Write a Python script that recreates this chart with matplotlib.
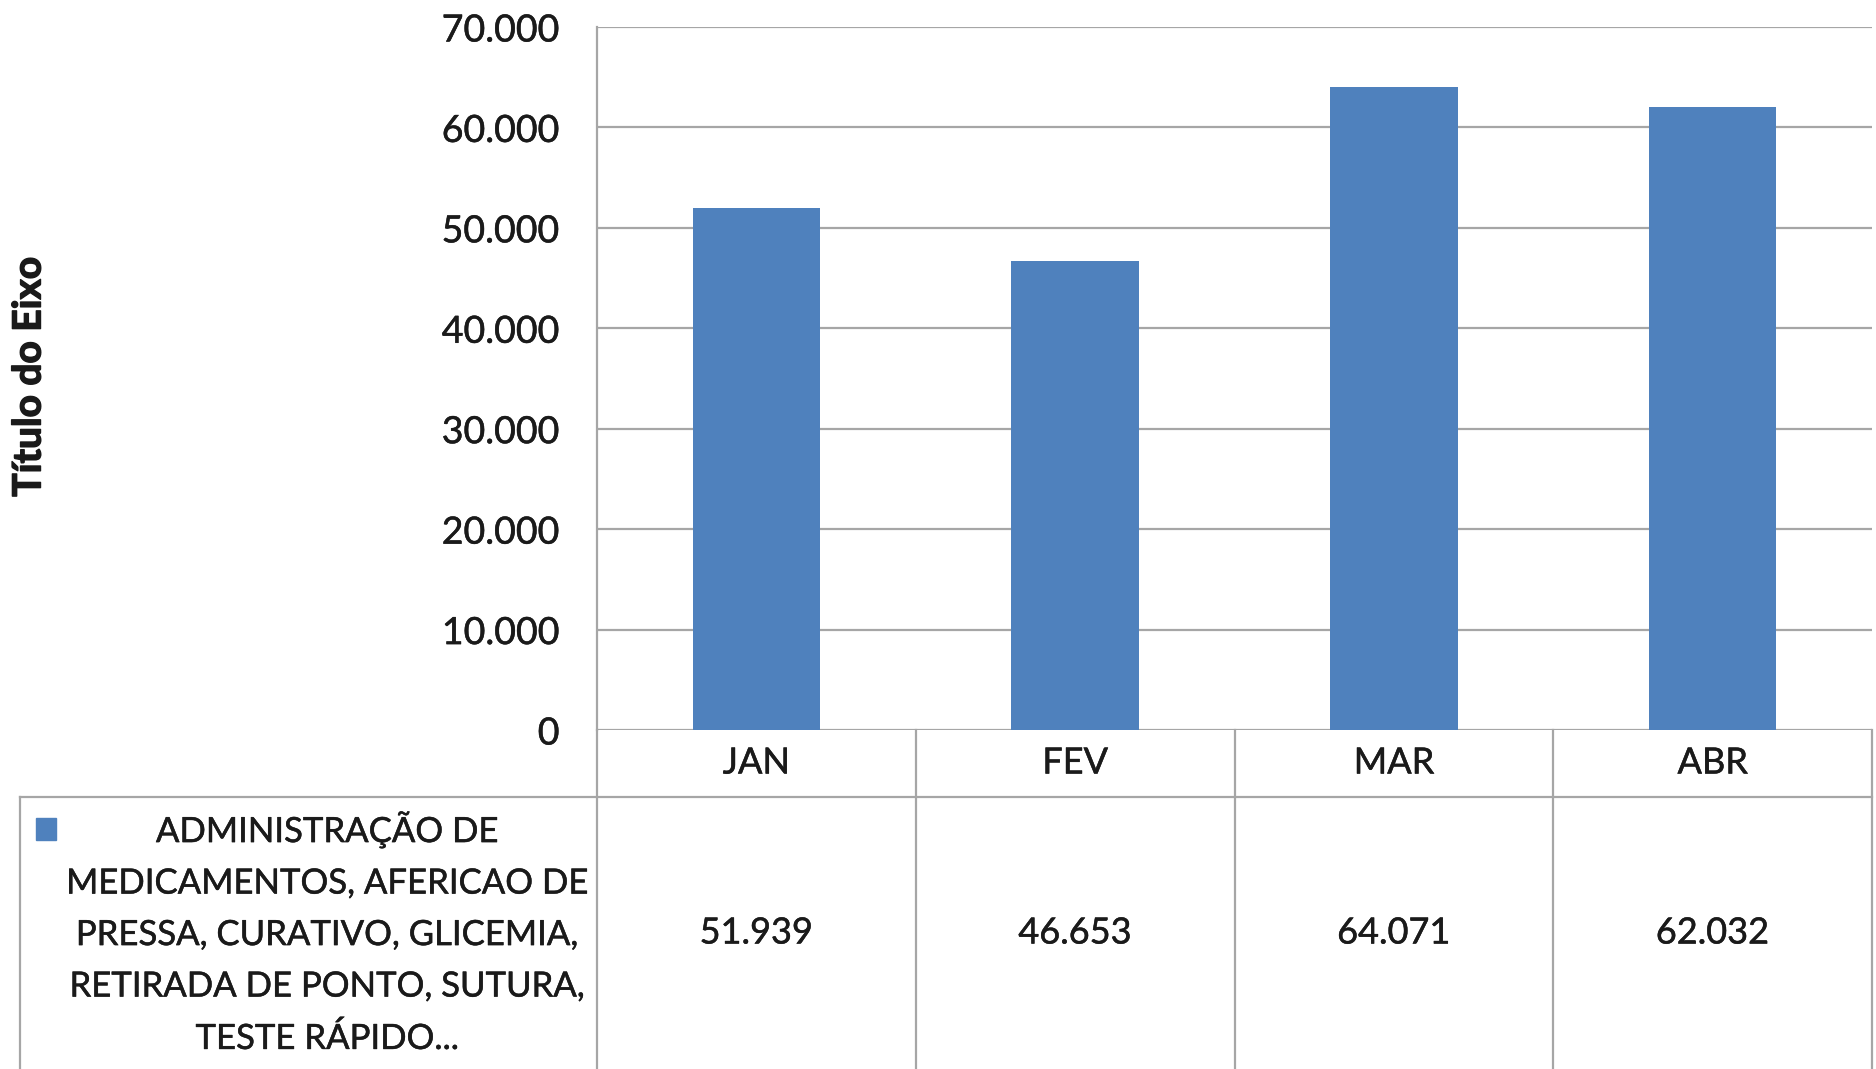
import matplotlib.pyplot as plt
import matplotlib.patheffects as pe
from matplotlib.lines import Line2D
from matplotlib.transforms import blended_transform_factory
from matplotlib.ticker import FuncFormatter

# dados
meses = ["JAN", "FEV", "MAR", "ABR"]
valores = [51939, 46653, 64071, 62032]
serie = ("ADMINISTRAÇÃO DE\nMEDICAMENTOS, AFERICAO DE\nPRESSA, CURATIVO, GLICEMIA,\n"
         "RETIRADA DE PONTO, SUTURA,\nTESTE RÁPIDO...")
y_ticks = [0, 10000, 20000, 30000, 40000, 50000, 60000, 70000]

plt.rcParams['font.family'] = ['Lato', 'DejaVu Sans']
plt.rcParams['text.color'] = "#1a1a1a"

W, H = 1876, 1069
fig = plt.figure(figsize=(W / 100, H / 100), dpi=100)
azul = "#4F81BD"
cinza = "#A6A6A6"
grosso = [pe.withStroke(linewidth=0.35, foreground="#1a1a1a")]

def fy(py):
    return 1 - py / H

def fx(px):
    return px / W

ax = fig.add_axes([fx(597), fy(730), fx(1872) - fx(597), fy(27) - fy(730)])
x = range(len(meses))
ax.bar(x, valores, width=0.4, color=azul, zorder=3)
ax.set_xlim(-0.5, len(meses) - 0.5)
ax.set_ylim(0, 70000)
ax.set_yticks(y_ticks)
ax.yaxis.set_major_formatter(FuncFormatter(lambda v, p: "0" if v == 0 else f"{int(v):,}".replace(",", ".")))
ax.tick_params(axis="y", length=0, pad=27, labelsize=27, colors="#1a1a1a")
for t in ax.get_yticklabels():
    t.set_path_effects(grosso)
ax.set_xticks([])
ax.grid(axis="y", color=cinza, linewidth=1.6, zorder=0)
for s in ["top", "right", "bottom"]:
    ax.spines[s].set_visible(False)
ax.spines["left"].set_color(cinza)
ax.spines["left"].set_linewidth(1.6)

fig.text(fx(29), fy(377), "Título do Eixo", rotation=90, ha="center", va="center",
         fontsize=28, fontweight="bold",
         path_effects=[pe.withStroke(linewidth=1.0, foreground="#1a1a1a")])

# tabela de dados
tr = blended_transform_factory(ax.transData, fig.transFigure)
lw = 1.6
y0, y1, y2 = fy(730), fy(797), fy(H + 5)
for i in range(len(meses) + 1):
    fig.add_artist(Line2D([i - 0.5, i - 0.5], [y0, y2], transform=tr, color=cinza, lw=lw))
fig.add_artist(Line2D([fx(20), fx(1872)], [y1, y1], color=cinza, lw=lw))
fig.add_artist(Line2D([fx(20), fx(20)], [y1, y2], color=cinza, lw=lw))

for i, (m, v) in enumerate(zip(meses, valores)):
    fig.text(i, fy(763), m, transform=tr, ha="center", va="center", fontsize=26, path_effects=grosso)
    fig.text(i, fy(933), f"{v:,}".replace(",", "."), transform=tr, ha="center", va="center",
             fontsize=26, path_effects=grosso)

fig.add_artist(plt.Rectangle((fx(36), fy(840)), fx(20), fy(0) - fy(22), color=azul))
fig.text(fx(327), fy(933), serie, ha="center", va="center", fontsize=25, linespacing=1.75,
         path_effects=grosso)

fig.savefig("out.png", dpi=100)
